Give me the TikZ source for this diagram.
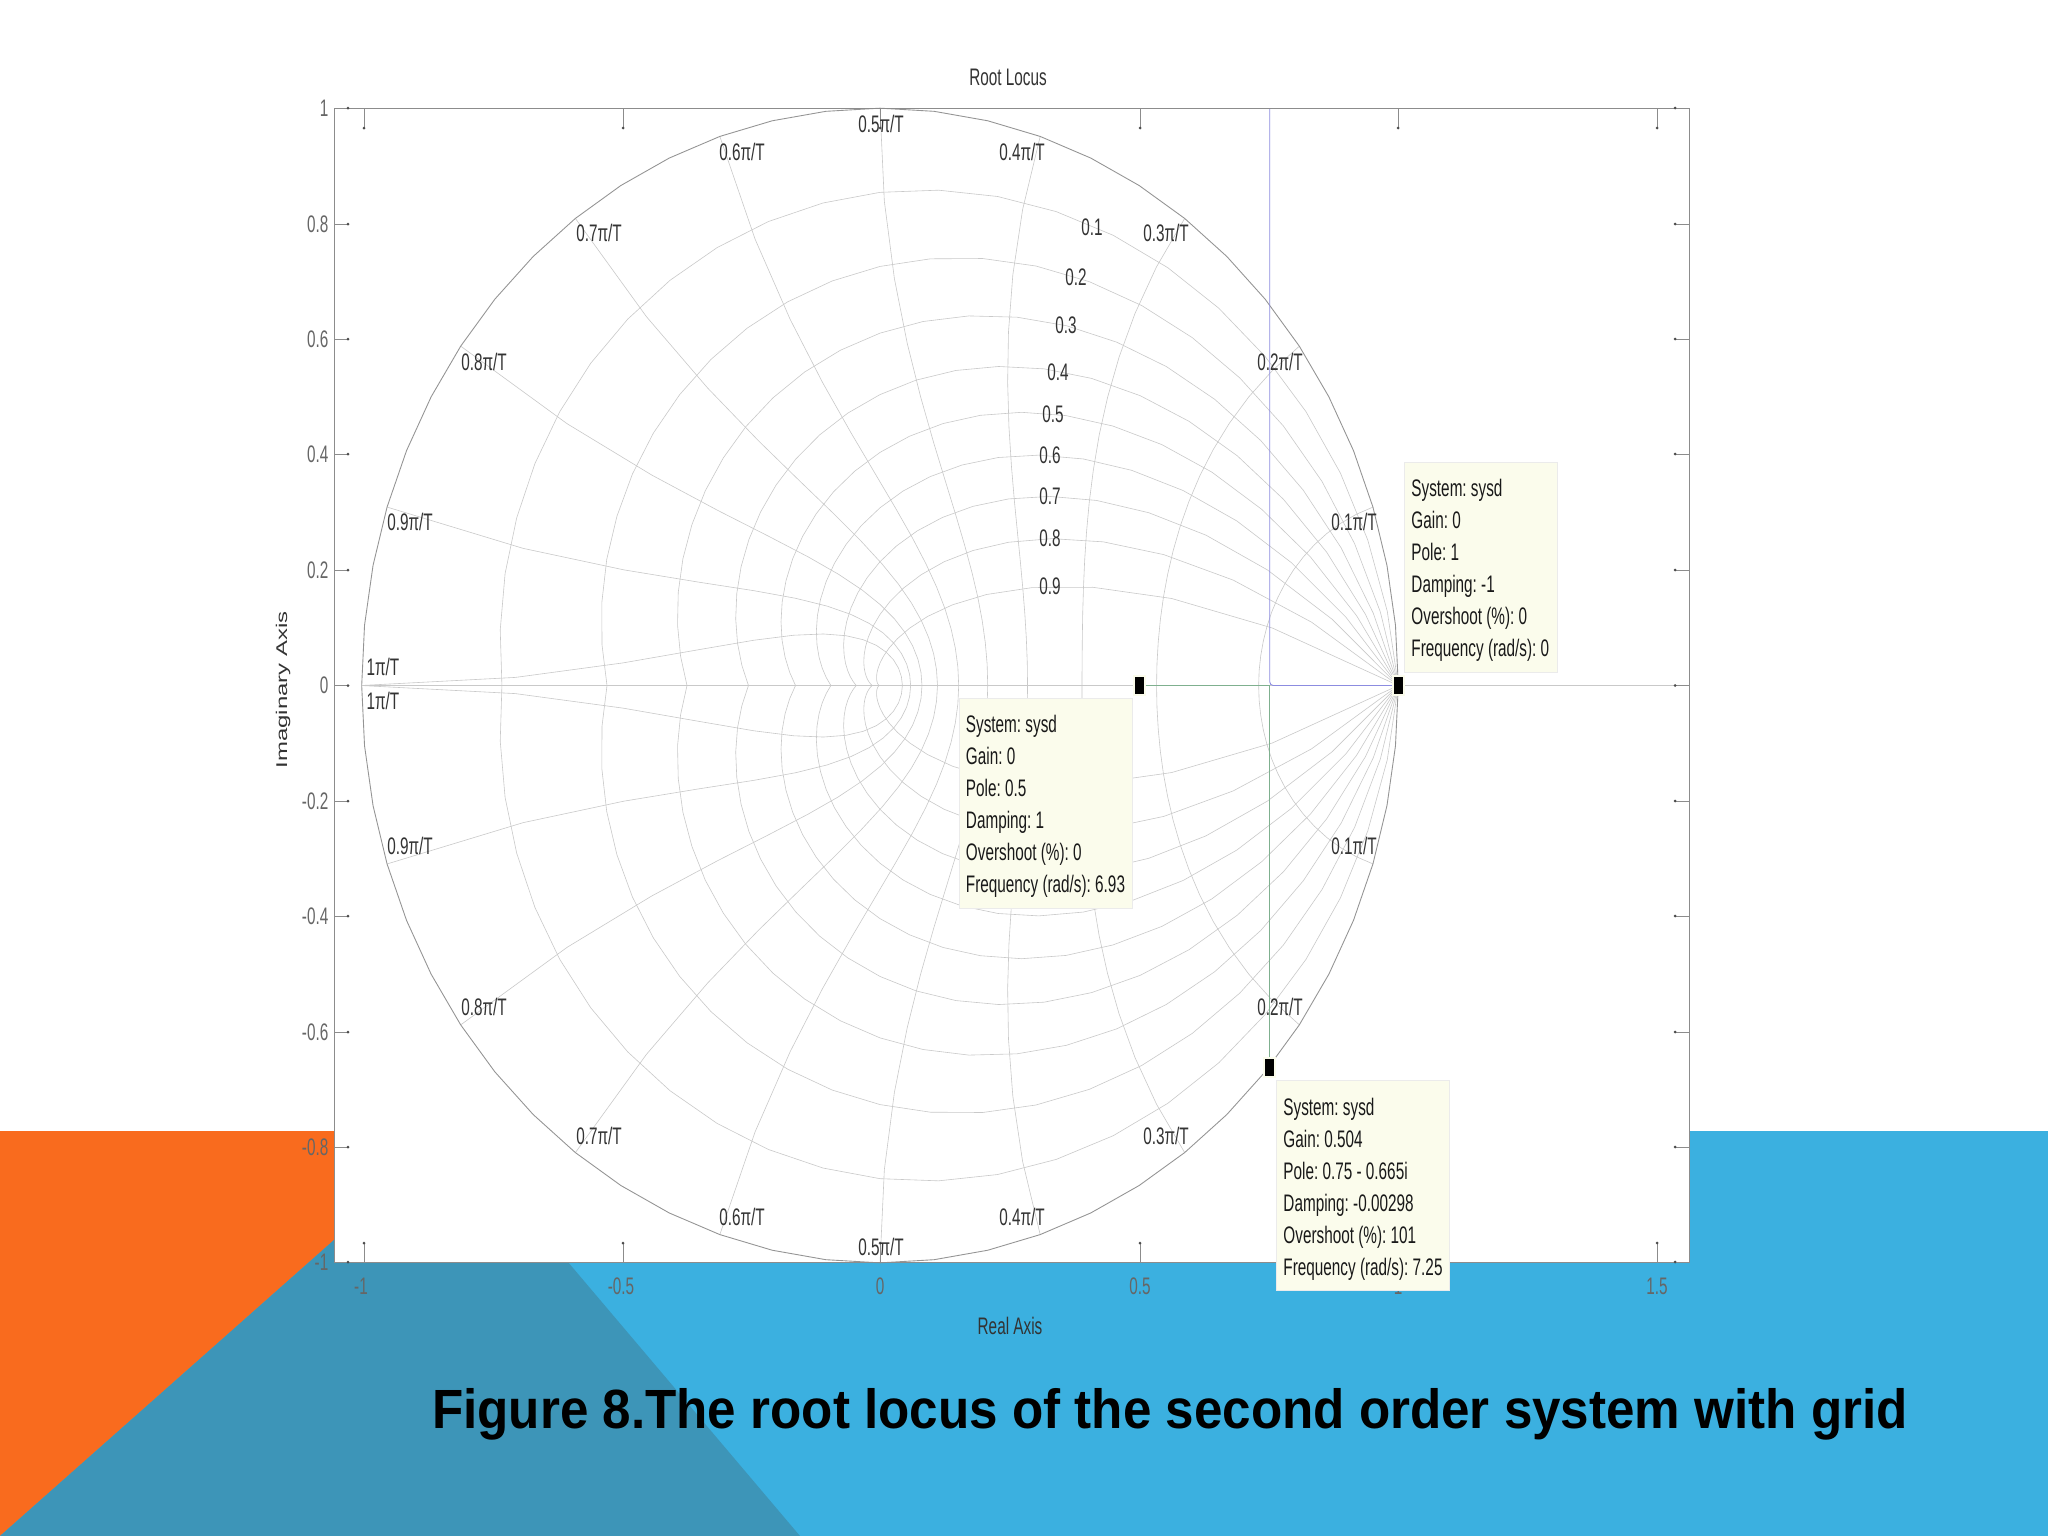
\documentclass[tikz,border=0pt]{standalone}
\usepackage{fontspec}
\usepackage{xcolor}
\setmainfont{Liberation Sans}
\newfontfamily\narrowfont[FakeStretch=0.64,WordSpace=1]{Liberation Sans}
\definecolor{bandorange}{HTML}{F96B1E}
\definecolor{bandblue}{HTML}{3BB0E0}
\definecolor{bandteal}{HTML}{3D95B8}
\definecolor{tipyellow}{HTML}{FBFCEC}
\definecolor{locusblue}{HTML}{8C8CE0}
\definecolor{locusgreen}{HTML}{7FB08F}
\tikzstyle{gridline} = [draw=black!21, line width=0.17pt]
\tikzstyle{axisline} = [draw=black!45, line width=0.25pt]
\tikzstyle{ticklab} = [text=black!60, inner sep=0pt, font=\narrowfont\fontsize{6.8}{8}\selectfont]
\tikzstyle{gridlab} = [text=black!80, inner sep=0pt, font=\narrowfont\fontsize{6.8}{8}\selectfont]
\tikzstyle{databox} = [fill=tipyellow, draw=black!8, line width=0.2pt, inner xsep=0.07cm, inner ysep=0.105cm, align=flush left, text=black!90, font=\narrowfont\frenchspacing\fontsize{6.8}{9.1}\selectfont, execute at begin node={\rule{0pt}{6.9pt}}]
\tikzstyle{polemark} = [rectangle, fill=black, draw=tipyellow, line width=0.6pt, inner sep=0pt, minimum width=0.11cm, minimum height=0.19cm]

\begin{document}
\begin{tikzpicture}[x=0.01cm,y=-0.01cm]
  \useasboundingbox (0,0) rectangle (2048,1536);
  % slide background
  \fill[bandblue] (0,1131) rectangle (2048,1536);
  \fill[bandorange] (0,1131) -- (457,1131) -- (0,1536) -- cycle;
  \fill[bandteal] (457,1131) -- (800,1536) -- (0,1536) -- cycle;
  \fill[white] (334,108) rectangle (1689,1262);

  % root locus grid, unit circle is damping 0
  \begin{scope}[shift={(880,685.5)},x=5.18cm,y=5.77cm]
    \foreach \s in {1,-1} {
      \foreach \z in {0.1,0.2,0.3,0.4,0.5,0.6,0.7,0.8,0.9} {
        \pgfmathsetmacro\m{\z/sqrt(1-\z*\z)}
        \draw[gridline] plot[domain=0:180,samples=25]
          ({exp(-\m*rad(\x))*cos(\x)},{\s*exp(-\m*rad(\x))*sin(\x)});
      }
      \foreach \w in {0.1,0.2,0.3,0.4,0.5,0.6,0.7,0.8,0.9,1} {
        \pgfmathsetmacro\wr{\w*pi}
        \draw[gridline] plot[domain=0:90,samples=15]
          ({exp(-\wr*cos(\x))*cos(deg(\wr*sin(\x)))},{\s*exp(-\wr*cos(\x))*sin(deg(\wr*sin(\x)))});
      }
      \draw[draw=black!42, line width=0.25pt] plot[domain=0:180,samples=31] ({cos(\x)},{\s*sin(\x)});
    }
    \draw[gridline] (-1,0) -- (1.5444,0);
    \coordinate (corner) at (0.752,0);
    \coordinate (topend) at (0.752,1);
    \node[polemark] (P5) at (0.5,0) {};
    \node[polemark] (P1) at (1,0) {};
    \node[polemark] (PC) at (0.752,-0.662) {};
    \draw[locusgreen, line width=0.25pt] (P5) -- (corner) -- (PC);
    \draw[locusblue, line width=0.25pt, rounded corners=1pt] (P1) -- (corner) -- (topend);
  \end{scope}

  % axes box and ticks
  \draw[axisline] (334,108) rectangle (1689,1262);
  \foreach \tx/\lx/\lab in {364/361/-1,623/621/-0.5,880/880/0,1140/1140/0.5,1398/1398/1,1657/1657/1.5} {
    \draw[axisline] (\tx,108) -- (\tx,128);
    \draw[axisline] (\tx,1262) -- (\tx,1243);
    \fill[black!70] (\tx,128) circle (1.5);
    \fill[black!70] (\tx,1243) circle (1.5);
    \node[ticklab] at (\lx,1286) {\lab};
  }
  \foreach \ty/\lab in {108/1,224/0.8,339/0.6,454/0.4,570/0.2,685.5/0,801/-0.2,916/-0.4,1032/-0.6,1147/-0.8,1262/-1} {
    \draw[axisline] (334,\ty) -- (348,\ty);
    \draw[axisline] (1689,\ty) -- (1675,\ty);
    \fill[black!70] (348,\ty) circle (1.5);
    \fill[black!70] (1675,\ty) circle (1.5);
    \node[ticklab, anchor=east] at (329,\ty) {\lab};
  }

  % frequency labels, upper and lower half
  \foreach \lab/\lx/\ly/\my in {0.5/881/124/1247,0.6/742/152/1217,0.4/1022/152/1217,0.7/599/233/1136,0.3/1166/233/1136,0.8/484/362/1007,0.2/1280/362/1007,0.9/410/522/846,0.1/1354/522/846} {
    \node[gridlab] at (\lx,\ly) {\lab π/T};
    \node[gridlab] at (\lx,\my) {\lab π/T};
  }
  \node[gridlab] (wnup) at (383,667) {1π/T};
  \node[gridlab] (wnlow) at (383,701) {1π/T};
  % damping labels
  \foreach \lab/\lx/\ly in {0.1/1092/227,0.2/1076/277,0.3/1066/325,0.4/1058/372,0.5/1053/414,0.6/1050/455,0.7/1050/496,0.8/1050/538,0.9/1050/586} {
    \node[gridlab] at (\lx,\ly) {\lab};
  }

  % data tips
  \node[databox, text width=1.39cm] (tipone) at (1481,567) {System: sysd\\Gain: 0\\Pole: 1\\Damping: -1\\Overshoot (\%): 0\\Frequency (rad/s): 0};
  \node[databox, text width=1.59cm] (tiptwo) at (1045.5,803) {System: sysd\\Gain: 0\\Pole: 0.5\\Damping: 1\\Overshoot (\%): 0\\Frequency (rad/s): 6.93};
  \node[databox, text width=1.59cm] (tipthree) at (1363,1185.5) {System: sysd\\Gain: 0.504\\Pole: 0.75 - 0.665i\\Damping: -0.00298\\Overshoot (\%): 101\\Frequency (rad/s): 7.25};

  % titles
  \node[gridlab] (rootlocus) at (1008,77) {Root Locus};
  \node[gridlab] (realaxis) at (1010,1326) {Real Axis};
  \node[text=black!80, inner sep=0pt, font=\fontsize{6.8}{8}\selectfont, rotate=90, yscale=0.65] (imagaxis) at (283,690) {Imaginary Axis};
  \node[font=\bfseries\fontsize{14.55}{18}\selectfont, inner sep=0pt, yscale=1.08] (caption) at (1170,1414) {Figure 8.The root locus of the second order system with grid};
\end{tikzpicture}
\end{document}
